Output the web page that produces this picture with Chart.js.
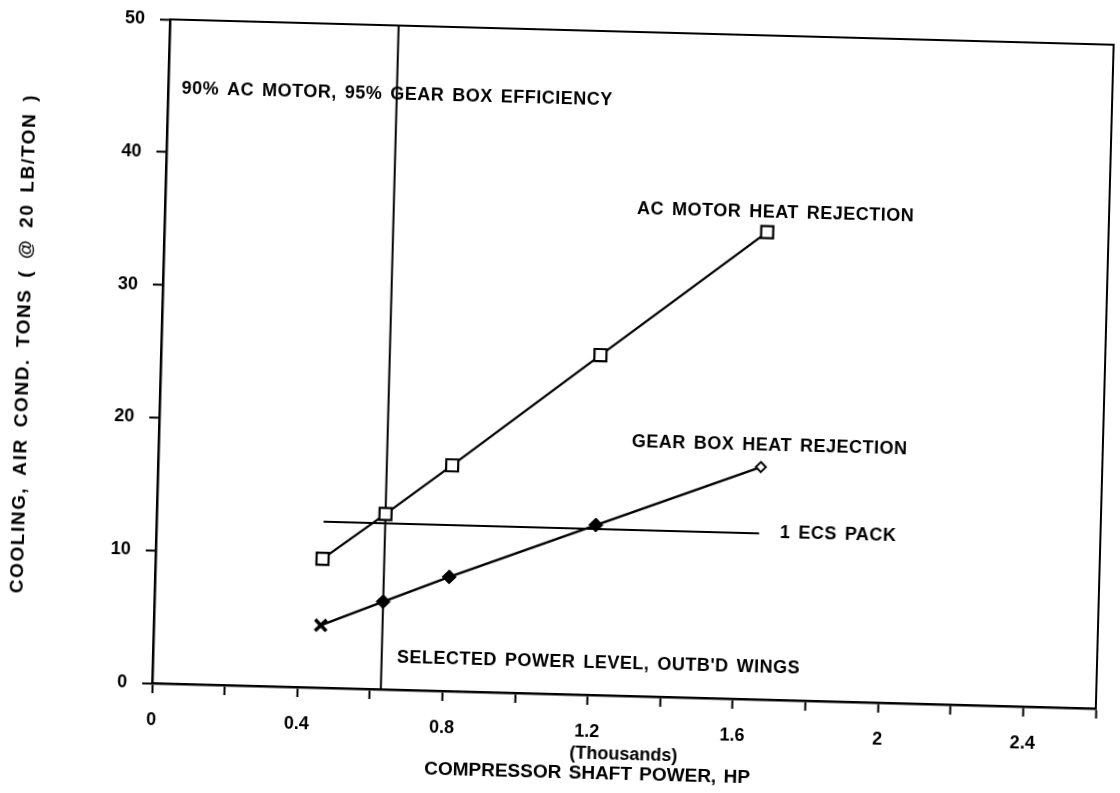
<!DOCTYPE html>
<html>
<head>
<meta charset="utf-8">
<script src="https://cdn.jsdelivr.net/npm/chart.js@4/dist/chart.umd.min.js"></script>
<style>
  html, body { margin: 0; padding: 0; background: #fff; overflow: hidden; }
  /* the scanned original sits about 1.5 degrees askew */
  #chart { display: block; transform: rotate(1.54deg); transform-origin: 560px 396.5px; }
</style>
</head>
<body>
<canvas id="chart" width="1120" height="793"></canvas>
<script>
// compressor shaft power, thousands of HP
const power = [0.46, 0.63, 0.81, 1.21, 1.66]
// cooling, air cond. tons
const acMotorTons = [9.7, 13.2, 17.0, 25.6, 35.2]
const gearBoxTons = [4.7, 6.6, 8.6, 12.8, 17.5]
// 1 ECS pack capacity, drawn across this power span
const ecsPackTons = 12.5
const ecsPackPower = [0.46, 1.66]
// selected power level, outb'd wings
const selectedPower = 0.63

const xMax = 2.6
const yMax = 50

const FONT = '"Liberation Sans", Arial, Helvetica, sans-serif'
const yTitle = 'COOLING, AIR COND. TONS ( @ 20 LB/TON )'

// text notes on the plot, placed in data units
const notes = [
  { text: '90% AC MOTOR, 95% GEAR BOX EFFICIENCY', x: 0.037, y: 44.8 },
  { text: 'AC MOTOR HEAT REJECTION', x: 1.30, y: 36.7 },
  { text: 'GEAR BOX HEAT REJECTION', x: 1.303, y: 19.1 },
  { text: '1 ECS PACK', x: 1.717, y: 12.55 },
  { text: "SELECTED POWER LEVEL, OUTB'D WINGS", x: 0.672, y: 2.42 }
]

const toPoints = (xs, ys) => xs.map((x, i) => ({ x: x, y: ys[i] }))

const frameAndText = {
  id: 'frameAndText',
  afterDraw(chart) {
    const ctx = chart.ctx
    const a = chart.chartArea
    const xs = chart.scales.x
    const ys = chart.scales.y
    ctx.save()
    // top and right edges of the box
    ctx.strokeStyle = '#000'
    ctx.lineWidth = 2
    ctx.beginPath()
    ctx.moveTo(a.left, a.top)
    ctx.lineTo(a.right, a.top)
    ctx.lineTo(a.right, a.bottom)
    ctx.stroke()

    ctx.fillStyle = '#000'
    ctx.font = 'bold 18px ' + FONT
    ctx.textBaseline = 'middle'
    ctx.textAlign = 'left'
    ctx.letterSpacing = '0.5px'
    ctx.wordSpacing = '2.5px'
    notes.forEach(n => {
      ctx.fillText(n.text, xs.getPixelForValue(n.x), ys.getPixelForValue(n.y))
    })

    // x axis title, two lines
    ctx.textAlign = 'center'
    ctx.letterSpacing = '0px'
    ctx.wordSpacing = '2px'
    ctx.font = 'bold 18px ' + FONT
    ctx.fillText('(Thousands)', xs.getPixelForValue(1.303), a.bottom + 59)
    ctx.font = 'bold 19px ' + FONT
    ctx.fillText('COMPRESSOR SHAFT POWER, HP', xs.getPixelForValue(1.204), a.bottom + 79)

    // y axis title, spread out like the plotter lettering
    ctx.save()
    ctx.translate(23, (a.top + a.bottom) / 2 - 4)
    ctx.rotate(-Math.PI / 2)
    ctx.font = 'bold 19px ' + FONT
    ctx.letterSpacing = '1.6px'
    ctx.wordSpacing = '4px'
    ctx.fillText(yTitle, 0, 0)
    ctx.restore()
    ctx.restore()
  }
}

const data = {
  datasets: [
    {
      label: 'AC MOTOR HEAT REJECTION',
      data: toPoints(power, acMotorTons),
      showLine: true,
      borderColor: '#000',
      borderWidth: 2.2,
      pointStyle: 'rect',
      pointRadius: 8.5,
      pointBorderWidth: 2.2,
      pointBorderColor: '#000',
      pointBackgroundColor: '#fff'
    },
    {
      label: 'GEAR BOX HEAT REJECTION',
      data: toPoints(power, gearBoxTons),
      showLine: true,
      borderColor: '#000',
      borderWidth: 2.4,
      pointStyle: ['crossRot', 'rectRot', 'rectRot', 'rectRot', 'rectRot'],
      pointRadius: [8, 7, 7, 7, 5],
      pointBorderWidth: [3.5, 1, 1, 1, 2],
      pointBorderColor: '#000',
      pointBackgroundColor: ['#000', '#000', '#000', '#000', '#fff']
    },
    {
      label: '1 ECS PACK',
      data: toPoints(ecsPackPower, [ecsPackTons, ecsPackTons]),
      showLine: true,
      borderColor: '#000',
      borderWidth: 2.2,
      pointRadius: 0
    },
    {
      label: 'SELECTED POWER LEVEL',
      data: toPoints([selectedPower, selectedPower], [0, yMax]),
      showLine: true,
      borderColor: '#000',
      borderWidth: 2,
      pointRadius: 0
    }
  ]
}

const config = {
  type: 'scatter',
  data: data,
  options: {
    responsive: false,
    animation: false,
    devicePixelRatio: 1,
    layout: { padding: { top: 30, right: 9, bottom: 0, left: 0 } },
    plugins: {
      legend: { display: false },
      tooltip: { enabled: false }
    },
    scales: {
      x: {
        type: 'linear',
        min: 0,
        max: xMax,
        afterFit: s => { s.height = 99 },
        border: { display: true, color: '#000', width: 2.5 },
        grid: { drawOnChartArea: false, drawTicks: true, tickLength: 10, color: '#000', tickWidth: 2 },
        ticks: {
          stepSize: 0.2,
          autoSkip: false,
          maxRotation: 0,
          padding: 16,
          color: '#000',
          font: { family: FONT, size: 18, weight: 'bold' },
          callback: v => (Math.round(v * 10) % 4 === 0 ? String(+v.toFixed(1)) : '')
        }
      },
      y: {
        min: 0,
        max: yMax,
        afterFit: s => { s.width = 160 },
        border: { display: true, color: '#000', width: 2.5 },
        grid: { drawOnChartArea: false, drawTicks: true, tickLength: 10, color: '#000', tickWidth: 2 },
        ticks: {
          stepSize: 10,
          padding: 15,
          color: '#000',
          font: { family: FONT, size: 18, weight: 'bold' }
        }
      }
    }
  },
  plugins: [frameAndText]
}

const myChart = new Chart(document.getElementById('chart'), config)
</script>
</body>
</html>
